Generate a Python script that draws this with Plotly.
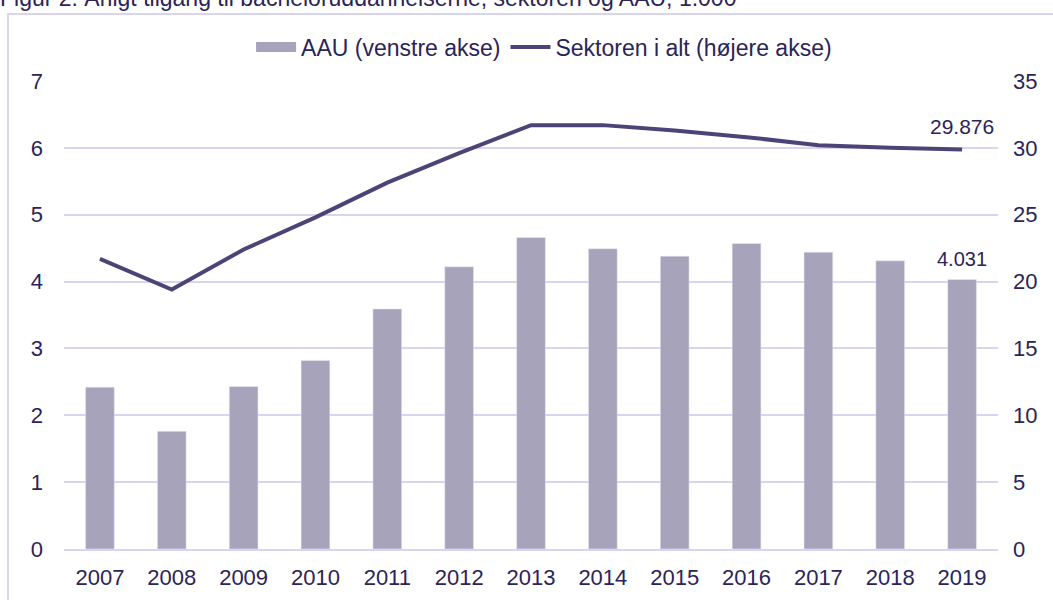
import plotly.graph_objects as go

# Data (1.000 personer)
years = ['2007', '2008', '2009', '2010', '2011', '2012', '2013',
         '2014', '2015', '2016', '2017', '2018', '2019']
aau = [2.42, 1.76, 2.43, 2.82, 3.59, 4.22, 4.66, 4.49, 4.38, 4.57, 4.44, 4.31, 4.031]
sektor = [21.7, 19.4, 22.4, 24.8, 27.4, 29.6, 31.7, 31.7, 31.3, 30.8, 30.2, 30.0, 29.876]

title = 'Figur 2: Årligt tilgang til bacheloruddannelserne, sektoren og AAU, 1.000'

navy = '#2b2458'
grid = '#d9d5f0'
bar_col = '#a7a3bb'
line_col = '#4b4577'
font = 'Liberation Sans, Arial, sans-serif'

fig = go.Figure()
fig.add_trace(go.Bar(
    x=years, y=aau, name='AAU (venstre akse)', showlegend=False,
    marker_color=bar_col,
))
# bred signatur i forklaringen, som i originalen
fig.add_trace(go.Scatter(
    x=[None], y=[None], name='AAU (venstre akse)', mode='lines',
    line=dict(color=bar_col, width=14),
))
fig.add_trace(go.Scatter(
    x=years, y=sektor, name='Sektoren i alt (højere akse)', yaxis='y2',
    mode='lines', line=dict(color=line_col, width=4),
))

# etiketter på sidste år (kategori-indeks, da årstal ellers læses som tal)
last = len(years) - 1
fig.add_annotation(x=last, y=aau[last], xref='x', yref='y',
                   text=f'{aau[last]:.3f}', showarrow=False,
                   yanchor='bottom', yshift=8,
                   font=dict(size=20, color=navy, family=font))
fig.add_annotation(x=last, y=sektor[last], xref='x', yref='y2',
                   text=f'{sektor[last]:.3f}', showarrow=False,
                   yanchor='bottom', yshift=10,
                   font=dict(size=21, color=navy, family=font))

# ramme og overskrift (overskriften er delvis skåret af i toppen)
fig.add_shape(type='rect', xref='paper', yref='paper',
              x0=-56 / 934, x1=1.2, y0=-0.3, y1=1 + 67 / 468,
              line=dict(color=grid, width=2), fillcolor='rgba(0,0,0,0)')
fig.add_annotation(text=title, xref='paper', yref='paper',
                   x=-66 / 934, y=1 + 68 / 468, xanchor='left', yanchor='bottom',
                   showarrow=False, font=dict(size=23, color=navy, family=font))

fig.update_layout(
    width=1053, height=600,
    margin=dict(l=64, r=55, t=81, b=51, autoexpand=False),
    paper_bgcolor='white', plot_bgcolor='white',
    font=dict(family=font, size=22, color=navy),
    bargap=0.6,
    legend=dict(orientation='h', x=0.514, xanchor='center', y=1 + 34 / 468,
                yanchor='middle', font=dict(size=23, color=navy),
                itemwidth=40, tracegroupgap=0),
    xaxis=dict(type='category', range=[-0.5, len(years) - 0.5], showgrid=False,
               showline=True, linecolor=grid, linewidth=2, ticks='',
               ticklabelstandoff=8, tickfont=dict(size=22, color=navy)),
    yaxis=dict(range=[0, 7], dtick=1, showgrid=True, gridcolor=grid, gridwidth=2,
               zeroline=False, ticks='', ticklabelstandoff=20,
               tickfont=dict(size=22, color=navy)),
    yaxis2=dict(range=[0, 35], dtick=5, overlaying='y', side='right',
                showgrid=False, zeroline=False, ticks='', ticklabelstandoff=14,
                tickfont=dict(size=22, color=navy)),
)

# fjern sidens standardmargen, så figuren sidder i hjørnet
fig.write_html(
    'out.html',
    config={'displayModeBar': False},
    post_script="document.body.style.margin='0';"
                "document.documentElement.style.overflow='hidden';",
)
